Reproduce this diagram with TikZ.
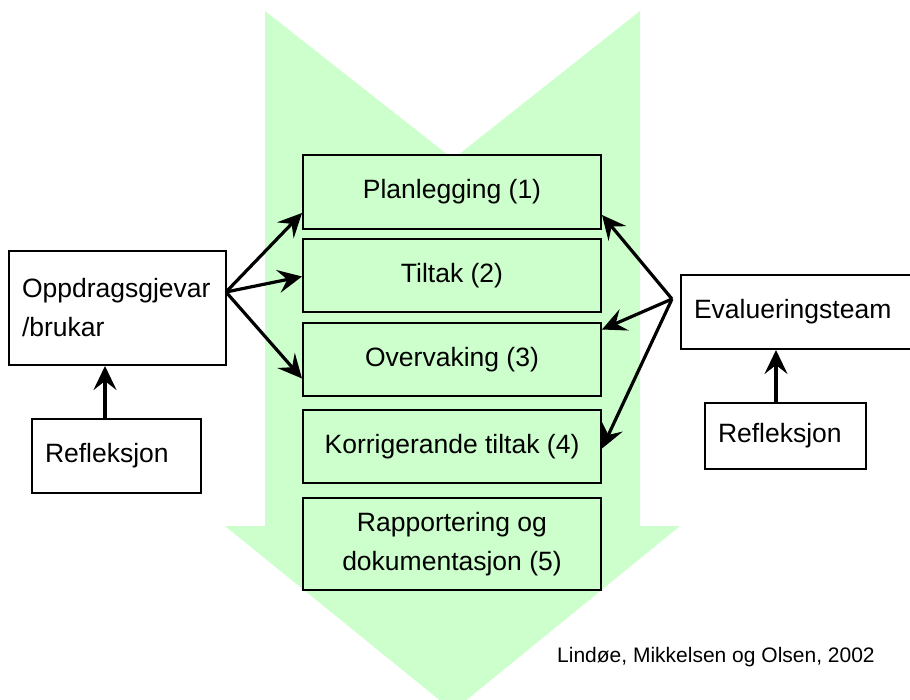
\documentclass[tikz,border=0pt]{standalone}
\usepackage{fontspec}
\setmainfont{Liberation Sans}
\usepackage{tikz}
\usetikzlibrary{arrows.meta}
\usetikzlibrary{positioning}
\usepackage{xcolor}
\definecolor{flowgreen}{HTML}{CCFFCC}

\begin{document}
\begin{tikzpicture}[x=1pt, y=-1pt,
		every node/.style={font=\fontsize{26.5}{39}\selectfont},
		stage/.style={draw, line width=2pt, fill=flowgreen, minimum width=298pt, align=center},
		actor/.style={draw, line width=2pt, fill=white, inner xsep=13pt, align=left},
		link/.style={line width=3.2pt, -{Stealth[length=24pt, width=23pt, inset=9pt]}}]
			\clip (0,0) rectangle (910,699);
			\fill[white] (0,0) rectangle (910,699);
			
			% big downward arrow
			\fill[flowgreen] (265,11) -- (453,159) -- (640,11) -- (640,526) -- (680,526)
				-- (453,711) -- (225,526) -- (265,526) -- cycle;
			
			\node[stage, minimum height=74pt] (plan) at (452,192) {Planlegging (1)};
			\node[stage, minimum height=73pt] (tilt) at (452,275.5) {Tiltak (2)};
			\node[stage, minimum height=73pt] (overv) at (452,359.5) {Overvaking (3)};
			\node[stage, minimum height=73pt] (korr) at (452,446.5) {Korrigerande tiltak (4)};
			\node[stage, minimum height=92pt] (rapp) at (452,544) {Rapportering og\\dokumentasjon (5)};
			
			\node[actor, text width=191pt, minimum height=114pt] (oppd) at (117.5,308) {Oppdragsgjevar\\/brukar};
			\node[actor, text width=143pt, minimum height=74pt] (refl1) at (116.5,456) {Refleksjon};
			\node[actor, text width=208pt, minimum height=74pt] (eval) at (798,312) {Evalueringsteam};
			\node[actor, text width=135pt, minimum height=66pt] (refl2) at (785.5,436) {Refleksjon};
			
			\node[font=\fontsize{21}{25}\selectfont, inner sep=0pt, anchor=base west] (cite) at (557,662) {Lindøe, Mikkelsen og Olsen, 2002};
			
			\coordinate (oppOut) at (226,292);
			\coordinate (evalOut) at (672,299);
			
			\draw[link] (oppOut) -- ([yshift=-21pt]plan.west);
			\draw[link] (oppOut) -- ([yshift=-1pt]tilt.west);
			\draw[link] (oppOut) -- ([yshift=-19pt]overv.west);
			
			\draw[link] (evalOut) -- ([yshift=-23pt]plan.east);
			\draw[link] (evalOut) -- ([yshift=30pt]overv.east);
			\draw[link] (evalOut) -- ([yshift=-2pt]korr.east);
			
			\draw[link] ([xshift=-11.5pt]refl1.north) -- ([xshift=-12.5pt]oppd.south);
			\draw[link] ([xshift=-9.5pt]refl2.north) -- ([xshift=-22pt]eval.south);
		\end{tikzpicture}
\end{document}
